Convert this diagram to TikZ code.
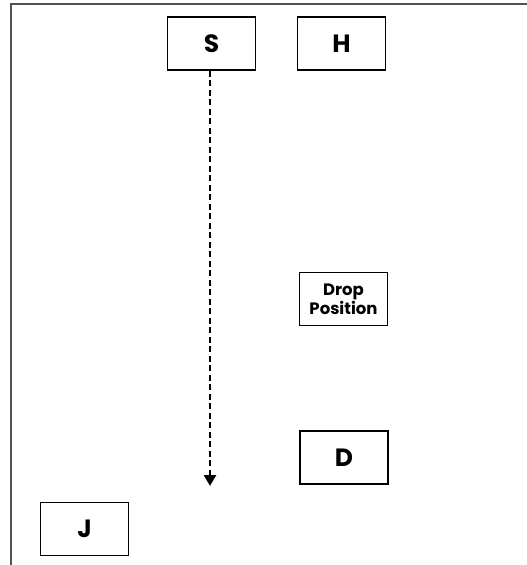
\documentclass[tikz,border=0pt]{standalone}
\usepackage{fontspec}
\setmainfont{Poppins}
\usetikzlibrary{arrows.meta}
\begin{document}
\begin{tikzpicture}[x=1pt,y=1pt,
  box/.style={draw=black, line width=1.8pt, minimum width=88pt, minimum height=53pt, inner sep=0pt, align=center, font=\bfseries\fontsize{25}{27}\selectfont},
  smallbox/.style={box, font=\bfseries\fontsize{16.5}{17}\selectfont},
  frame/.style={draw=black!68, line width=2.6pt},
  flow/.style={line width=2.6pt, dash pattern=on 6pt off 3.5pt, -{Triangle[width=12pt,length=11pt]}}]
\useasboundingbox (0,0) rectangle (527,-565);
\draw[frame] (527,-4) -- (11,-4) -- (11,-565);
\node[box] (S) at (211.5,-43.5) {S};
\node[box] (H) at (341.5,-43.5) {H};
\node[smallbox] (drop) at (343.5,-299) {Drop\\Position};
\node[box] (D) at (344,-457.5) {D};
\node[box] (J) at (84.5,-529) {J};
\coordinate (end) at (210,-486);
\draw[flow] (S.south -| end) -- (end);
\end{tikzpicture}
\end{document}
